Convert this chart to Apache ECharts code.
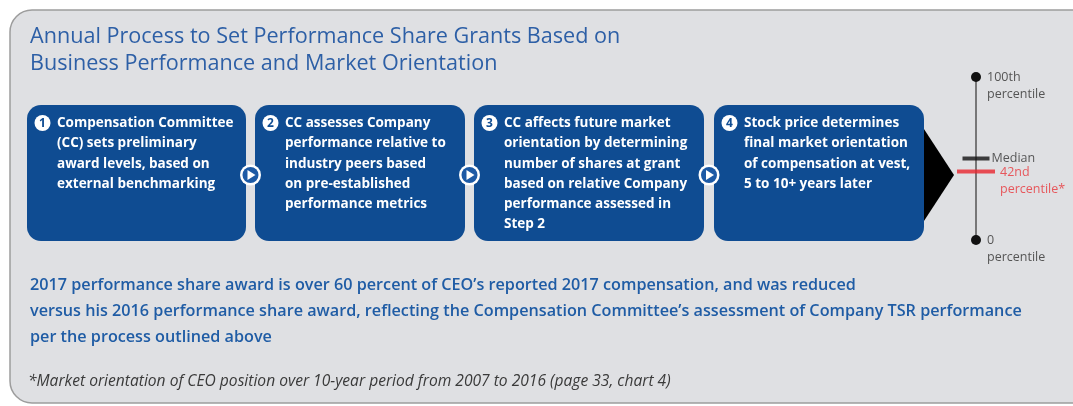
<!DOCTYPE html>
<html>
<head>
<meta charset="utf-8">
<style>
  html, body { margin: 0; padding: 0; background: #ffffff; }
  #main { width: 1073px; height: 406px; }
</style>
<script src="https://cdn.jsdelivr.net/npm/echarts@6/dist/echarts.min.js"></script>
</head>
<body>
<div id="main"></div>
<script>
// titles and texts
var titleLines = ['Annual Process to Set Performance Share Grants Based on',
                  'Business Performance and Market Orientation'];
var stepNumbers = ['1', '2', '3', '4'];
var stepTexts = [
  ['Compensation Committee', '(CC) sets preliminary', 'award levels, based on', 'external benchmarking'],
  ['CC assesses Company', 'performance relative to', 'industry peers based', 'on pre-established', 'performance metrics'],
  ['CC affects future market', 'orientation by determining', 'number of shares at grant', 'based on relative Company', 'performance assessed in', 'Step 2'],
  ['Stock price determines', 'final market orientation', 'of compensation at vest,', '5 to 10+ years later']
];
var summaryLines = [
  '2017 performance share award is over 60 percent of CEO\u2019s reported 2017 compensation, and was reduced',
  'versus his 2016 performance share award, reflecting the Compensation Committee\u2019s assessment of Company TSR performance',
  'per the process outlined above'
];
var footnote = '*Market orientation of CEO position over 10-year period from 2007 to 2016 (page 33, chart 4)';

// percentile scale
var scaleEnds = [0, 100];
var scaleEndLabels = ['0\npercentile', '100th\npercentile'];
var medianValue = 50;
var medianLabel = 'Median';
var ceoValue = 42;
var ceoLabel = '42nd\npercentile*';

var BLUE = '#0f4c92';
var FONT = '"Open Sans", "Noto Sans", sans-serif';

// layout of the four boxes (drawing only)
var boxX = [27, 255, 474, 714];
var boxW = [219, 210, 230, 210];
var boxTop = 105, boxH = 136;

var graphics = [];
// panel
graphics.push({
  type: 'rect', z: 0,
  shape: { x: 10, y: 10, width: 1085, height: 393, r: 22 },
  style: { fill: '#dfe0e3', stroke: '#9d9d9d', lineWidth: 1.5 }
});
// title
titleLines.forEach(function (t, i) {
  graphics.push({
    type: 'text', z: 2, x: 30, y: 37 + i * 27,
    style: { text: t, fill: '#2d5fa6', font: '21.6px ' + FONT, verticalAlign: 'middle' }
  });
});
// big arrow (behind last box)
graphics.push({
  type: 'polygon', z: 1,
  shape: { points: [[922, 126], [954, 175], [922, 224]] },
  style: { fill: '#000000' }
});
// boxes
stepTexts.forEach(function (lines, i) {
  var x0 = boxX[i];
  graphics.push({
    type: 'rect', z: 2,
    shape: { x: x0, y: boxTop, width: boxW[i], height: boxH, r: 14 },
    style: { fill: BLUE }
  });
  graphics.push({
    type: 'circle', z: 3,
    shape: { cx: x0 + 15.5, cy: 123, r: 8 },
    style: { fill: '#ffffff' }
  });
  graphics.push({
    type: 'text', z: 4, x: x0 + 15.5, y: 123.5,
    style: { text: stepNumbers[i], fill: BLUE, font: 'bold 12px ' + FONT, align: 'center', verticalAlign: 'middle' }
  });
  graphics.push({
    type: 'text', z: 3, x: x0 + 30, y: 113,
    style: { text: lines.join('\n'), fill: '#ffffff', font: 'bold 13.5px ' + FONT, lineHeight: 20.3, verticalAlign: 'top' }
  });
});
// play connectors
[250.5, 469.5, 709].forEach(function (cx) {
  graphics.push({ type: 'circle', z: 5, shape: { cx: cx, cy: 175, r: 10.5 }, style: { fill: '#ffffff' } });
  graphics.push({ type: 'circle', z: 6, shape: { cx: cx, cy: 175, r: 8 }, style: { fill: '#1d5aa5' } });
  graphics.push({
    type: 'polygon', z: 7,
    shape: { points: [[cx - 3, 170], [cx + 5, 175], [cx - 3, 180]] },
    style: { fill: '#ffffff' }
  });
});
// summary text
graphics.push({
  type: 'text', z: 2, x: 30, y: 272,
  style: { text: summaryLines.join('\n'), fill: '#1f5ca5', font: '600 16.2px ' + FONT, lineHeight: 26, verticalAlign: 'top' }
});
graphics.push({
  type: 'text', z: 2, x: 28, y: 382,
  style: { text: footnote, fill: '#3a3a3a', font: 'italic 15.6px ' + FONT, verticalAlign: 'middle' }
});

var labelStyle = { color: '#555555', fontFamily: FONT, fontSize: 12.5, lineHeight: 17 };

var chart = echarts.init(document.getElementById('main'));
chart.setOption({
  animation: false,
  graphic: graphics,
  grid: { left: 966, width: 20, top: 77, bottom: 166 },
  xAxis: { type: 'value', min: 0, max: 2, show: false },
  yAxis: { type: 'value', min: 0, max: 100, show: false },
  series: [
    {
      type: 'line', z: 10,
      data: scaleEnds.map(function (v, i) {
        return {
          value: [1, v],
          label: {
            show: true, position: 'right', distance: 6, offset: [0, 9],
            formatter: scaleEndLabels[i]
          }
        };
      }),
      symbol: 'circle', symbolSize: 10,
      itemStyle: { color: '#111111' },
      lineStyle: { color: '#555555', width: 1.5 },
      label: labelStyle
    },
    {
      type: 'scatter', z: 11,
      data: [{ value: [1, medianValue] }],
      symbol: 'rect', symbolSize: [27, 4],
      itemStyle: { color: '#111111' },
      label: Object.assign({ show: true, position: 'right', distance: 2, formatter: medianLabel }, labelStyle, { color: '#333333' })
    },
    {
      type: 'scatter', z: 11,
      data: [{ value: [1, ceoValue] }],
      symbol: 'rect', symbolSize: [38, 4],
      itemStyle: { color: '#e8262e' },
      label: Object.assign({ show: true, position: 'right', distance: 5, offset: [0, 9], formatter: ceoLabel },
        labelStyle, { color: '#e8343a' })
    }
  ]
});
</script>
</body>
</html>
